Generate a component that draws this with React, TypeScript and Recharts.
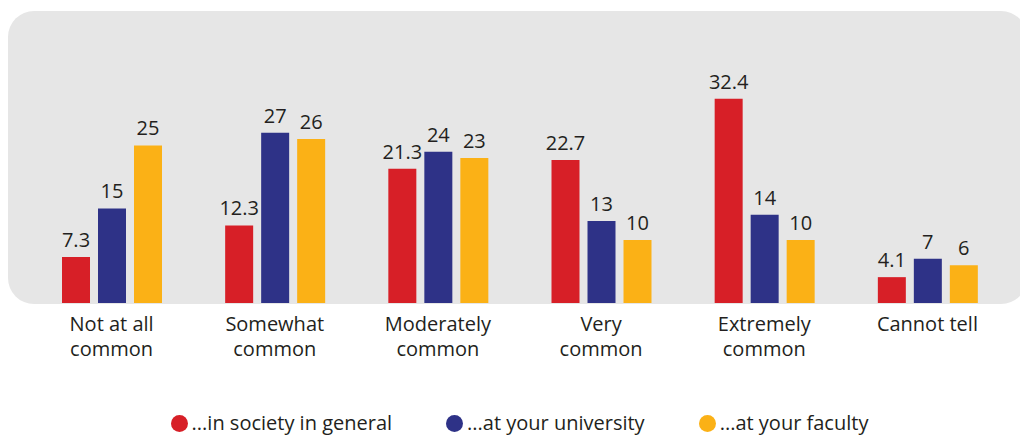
import { BarChart, Bar, XAxis, YAxis, Legend, LabelList } from "recharts";

const categories = [
  "Not at all\ncommon",
  "Somewhat\ncommon",
  "Moderately\ncommon",
  "Very\ncommon",
  "Extremely\ncommon",
  "Cannot tell",
];
const society = [7.3, 12.3, 21.3, 22.7, 32.4, 4.1];
const university = [15, 27, 24, 13, 14, 7];
const faculty = [25, 26, 23, 10, 10, 6];

const seriesKeys = ["society", "university", "faculty"];
const seriesNames = ["...in society in general", "...at your university", "...at your faculty"];
const colors = ["#d71f27", "#2e3287", "#fbb116"];

const data = categories.map((name, i) => ({
  name,
  society: society[i],
  university: university[i],
  faculty: faculty[i],
}));

const FONT = "'Open Sans', sans-serif";
const TEXT = "#231f20";

function CategoryTick({ x, y, payload }: any) {
  const lines = String(payload.value).split("\n");
  return (
    <text x={x} y={y} textAnchor="middle" fill={TEXT} fontSize={20} fontFamily={FONT}>
      {lines.map((l, i) => (
        <tspan key={i} x={x} dy={i === 0 ? 28 : 25}>
          {l}
        </tspan>
      ))}
    </text>
  );
}

function LegendContent({ payload }: any) {
  const items = [...(payload || [])].sort(
    (a: any, b: any) => seriesNames.indexOf(a.value) - seriesNames.indexOf(b.value)
  );
  return (
    <div
      style={{
        display: "flex",
        justifyContent: "center",
        fontFamily: FONT,
        fontSize: 20,
        lineHeight: "24px",
        color: TEXT,
      }}
    >
      {items.map((p: any, i: number) => (
        <div
          key={p.value}
          style={{ display: "flex", alignItems: "center", marginRight: i < items.length - 1 ? 54 : 0 }}
        >
          <span
            style={{
              width: 17,
              height: 17,
              borderRadius: "50%",
              background: p.color,
              display: "inline-block",
              marginRight: 4,
            }}
          />
          <span>{p.value}</span>
        </div>
      ))}
    </div>
  );
}

export default function App() {
  return (
    <div style={{ position: "relative", width: 1020, height: 430 }}>
      <div
        style={{
          position: "absolute",
          left: 0,
          top: 3,
          width: 1019,
          height: 293,
          background: "#e6e6e6",
          borderRadius: 26,
        }}
      />
      <BarChart
        width={1020}
        height={430}
        data={data}
        margin={{ top: 5, right: 19, left: 22, bottom: 49 }}
        barSize={28}
        barGap={8}
        style={{ position: "absolute", left: 0, top: 0 }}
      >
        <XAxis
          dataKey="name"
          axisLine={false}
          tickLine={false}
          tickSize={0}
          tickMargin={0}
          height={60}
          interval={0}
          tick={<CategoryTick />}
        />
        <YAxis hide domain={[0, 46]} />
        <Legend
          verticalAlign="bottom"
          height={26}
          itemSorter={null as any}
          wrapperStyle={{ bottom: 1 }}
          content={<LegendContent />}
        />
        {seriesKeys.map((k, i) => (
          <Bar key={k} dataKey={k} name={seriesNames[i]} fill={colors[i]} isAnimationActive={false}>
            <LabelList dataKey={k} position="top" offset={10} fill={TEXT} fontSize={20} fontFamily={FONT} />
          </Bar>
        ))}
      </BarChart>
    </div>
  );
}
